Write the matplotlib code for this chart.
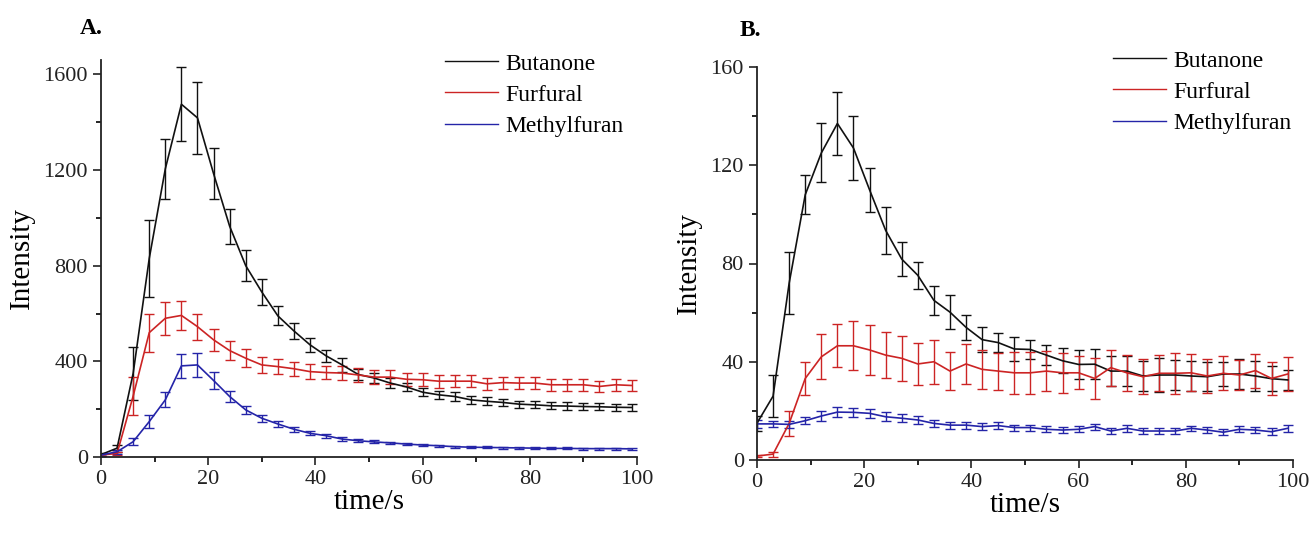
import matplotlib
matplotlib.use('Agg')
from matplotlib import pyplot as plt
from matplotlib.ticker import MultipleLocator

plt.rcParams['font.family'] = ['Liberation Serif', 'DejaVu Serif']

time_s = [0, 3, 6, 9, 12, 15, 18, 21, 24, 27, 30, 33, 36, 39, 42, 45, 48,
          51, 54, 57, 60, 63, 66, 69, 72, 75, 78, 81, 84, 87, 90, 93, 96, 99]
labels = ['Butanone', 'Furfural', 'Methylfuran']
colors = ['#111111', '#cc2424', '#2424a8']

# panel A
a_butanone = [10, 37, 350, 830, 1205, 1475, 1418, 1185, 965, 800, 690, 590,
              527, 469, 423, 385, 345, 330, 309, 293, 271, 260, 253, 239,
              233, 228, 221, 218, 214, 213, 211, 210, 208, 207]
a_butanone_err = [5, 15, 110, 160, 125, 155, 150, 105, 73, 65, 55, 40, 35,
                  30, 25, 30, 22, 20, 20, 18, 18, 17, 17, 16, 16, 15, 15, 15,
                  15, 15, 15, 15, 15, 15]
a_furfural = [8, 15, 255, 520, 580, 592, 545, 490, 445, 413, 385, 378, 369,
              357, 353, 351, 343, 334, 334, 325, 323, 317, 317, 317, 306, 311,
              309, 309, 302, 302, 302, 295, 302, 299]
a_furfural_err = [3, 5, 80, 80, 70, 60, 55, 45, 40, 37, 35, 32, 30, 30, 28,
                  30, 28, 28, 28, 27, 27, 27, 26, 26, 25, 25, 25, 25, 24, 24,
                  24, 24, 24, 22]
a_methylfuran = [8, 22, 64, 148, 239, 381, 385, 320, 253, 197, 162, 138, 116,
                 99, 89, 75, 68, 63, 59, 54, 50, 47, 43, 41, 40, 39, 38, 37,
                 36, 36, 35, 35, 35, 34]
a_methylfuran_err = [3, 8, 15, 28, 31, 49, 49, 35, 23, 17, 15, 12, 10, 9, 8,
                     7, 6, 6, 5, 5, 5, 5, 4, 4, 4, 4, 4, 4, 4, 4, 4, 4, 4, 4]

# panel B
b_butanone = [15, 26, 72, 108, 125, 137, 127, 110, 93.5, 81.8, 75.2, 65,
              60.2, 54, 49, 47.8, 45.2, 45, 42.7, 40.4, 38.9, 39, 36.2, 36.2,
              34.2, 34.6, 34.6, 34.2, 33.9, 35, 35, 34.2, 33.1, 32.6]
b_butanone_err = [3, 8.5, 12.5, 8, 12, 13, 13, 9, 9.6, 7, 5.5, 6, 7, 5, 5, 4,
                  5, 4, 4, 5, 6, 6, 6, 6, 6, 7, 6, 6, 6, 5, 6, 6, 5, 4]
b_furfural = [1.6, 2.4, 14.9, 33.2, 42, 46.5, 46.5, 44.8, 42.7, 41.4, 39.1,
              40, 36.2, 39.1, 36.9, 36.2, 35.5, 35.5, 36.2, 35.5, 35.5, 33.2,
              37.6, 35.5, 33.9, 35.3, 35.3, 35.5, 34.2, 35.3, 34.6, 36.4,
              33.2, 35]
b_furfural_err = [0.5, 1, 5, 6.8, 9.2, 8.7, 10, 10.3, 9.5, 9.2, 8.6, 9, 7.9,
                  8.3, 8, 7.5, 8.5, 8.5, 8.1, 8.1, 6.7, 8.2, 7.3, 7.3, 7.1,
                  7.3, 8.3, 7.6, 6.8, 6.9, 6.1, 6.9, 6.8, 6.8]
b_methylfuran = [14.7, 14.7, 14.5, 16, 17.9, 19.5, 19.4, 19, 17.6, 17, 16.3,
                 14.9, 14.2, 14.2, 13.6, 14, 13.2, 13.2, 12.5, 12.2, 12.5,
                 13.6, 11.8, 12.9, 11.8, 11.8, 11.8, 12.9, 12.2, 11.3, 12.5,
                 12.2, 11.5, 12.9]
b_methylfuran_err = [1.5, 1.2, 1.5, 1.5, 2, 2, 1.8, 1.8, 1.8, 1.6, 1.5, 1.5,
                     1.4, 1.4, 1.4, 1.3, 1.2, 1.2, 1.3, 1.3, 1.2, 1.2, 1.2,
                     1.4, 1.2, 1.2, 1.2, 1.1, 1.3, 1.3, 1.3, 1.4, 1.4, 1.5]


def draw_panel(ax, series, errors, ylim, ystep, letter, letter_xy, legend_xy):
    for values, err, color, label in zip(series, errors, colors, labels):
        ax.errorbar(time_s, values, yerr=err, color=color, lw=1.2,
                    elinewidth=1.0, capsize=3.5, capthick=1.0, label=label)

    ax.set_xlim(0, 100)
    ax.set_ylim(*ylim)
    ax.xaxis.set_major_locator(MultipleLocator(20))
    ax.xaxis.set_minor_locator(MultipleLocator(10))
    ax.yaxis.set_major_locator(MultipleLocator(ystep))
    ax.yaxis.set_minor_locator(MultipleLocator(ystep / 2))
    ax.tick_params(which='major', direction='out', length=6, width=1.2,
                   labelsize=16, colors='#222222')
    ax.tick_params(which='minor', direction='out', length=3.5, width=1.2)
    for side in ['top', 'right']:
        ax.spines[side].set_visible(False)
    for side in ['left', 'bottom']:
        ax.spines[side].set_linewidth(1.3)
        ax.spines[side].set_color('#222222')

    ax.set_xlabel('time/s', fontsize=21, labelpad=0)
    ax.set_ylabel('Intensity', fontsize=21, labelpad=6)

    # legend uses plain lines, no error caps
    handles = [plt.Line2D([], [], color=c, lw=1.0) for c in colors]
    ax.legend(handles, labels, loc='upper left', bbox_to_anchor=legend_xy,
              bbox_transform=ax.figure.transFigure, frameon=False,
              fontsize=17, handlelength=2.25, handletextpad=0.3,
              labelspacing=0.41, borderpad=0, borderaxespad=0)

    ax.figure.text(letter_xy[0], letter_xy[1], letter, fontsize=17,
                   fontweight='bold', ha='left', va='center')


fig = plt.figure(figsize=(13.13, 5.34), dpi=100)
ax_a = fig.add_axes([101 / 1313, 1 - 457 / 534, 536 / 1313, 397 / 534])
ax_b = fig.add_axes([757 / 1313, 1 - 460 / 534, 536 / 1313, 393 / 534])

draw_panel(ax_a, [a_butanone, a_furfural, a_methylfuran],
           [a_butanone_err, a_furfural_err, a_methylfuran_err],
           (0, 1660), 400, 'A.', (80 / 1313, 1 - 28 / 534),
           (445 / 1313, 1 - 53 / 534))
draw_panel(ax_b, [b_butanone, b_furfural, b_methylfuran],
           [b_butanone_err, b_furfural_err, b_methylfuran_err],
           (0, 160), 40, 'B.', (740 / 1313, 1 - 31 / 534),
           (1113 / 1313, 1 - 50 / 534))

fig.savefig('out.png', dpi=100)
